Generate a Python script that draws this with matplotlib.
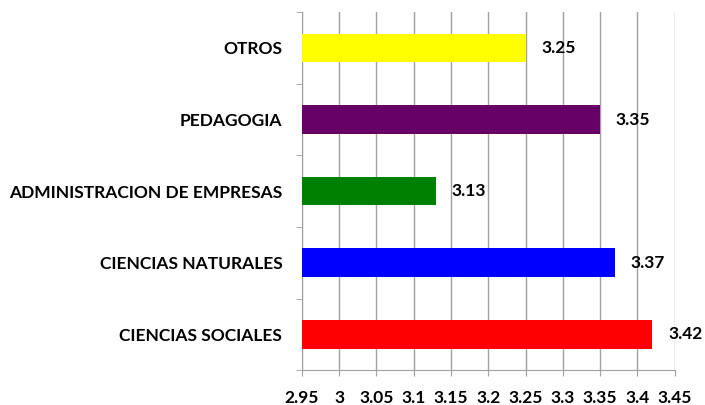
import matplotlib

matplotlib.use("Agg")
import matplotlib.pyplot as plt
import numpy as np

# datos (de abajo hacia arriba)
categories = ["CIENCIAS SOCIALES", "CIENCIAS NATURALES", "ADMINISTRACION DE EMPRESAS",
              "PEDAGOGIA", "OTROS"]
values = [3.42, 3.37, 3.13, 3.35, 3.25]
colors = ["#FF0000", "#0000FF", "#008000", "#660066", "#FFFF00"]
xticks = [2.95, 3.0, 3.05, 3.1, 3.15, 3.2, 3.25, 3.3, 3.35, 3.4, 3.45]
xtick_labels = ["2.95", "3", "3.05", "3.1", "3.15", "3.2", "3.25", "3.3", "3.35", "3.4", "3.45"]

plt.rcParams["font.family"] = ["Lato", "DejaVu Sans"]
plt.rcParams["font.weight"] = "bold"
FS = 12.5

fig = plt.figure(figsize=(7.05, 4.05), dpi=100)
ax = fig.add_axes([0.428, 0.086, 0.529, 0.884])

y = np.arange(len(categories))
ax.barh(y, np.array(values) - 2.95, left=2.95, height=0.4, color=colors, zorder=3)
for yi, v in zip(y, values):
    ax.text(v + 0.021, yi, f"{v:.2f}", va="center", ha="left", fontsize=FS,
            fontweight="bold", zorder=4)

ax.set_xlim(2.95, 3.45)
ax.set_ylim(-0.5, len(categories) - 0.5)
ax.set_xticks(xticks)
ax.set_xticklabels(xtick_labels, fontsize=FS, fontweight="bold")
ax.tick_params(axis="x", length=4, color="#A0A0A0", pad=10)

# etiquetas de categoria en el centro, marcas en los limites
ax.set_yticks(y)
ax.set_yticklabels(categories, fontsize=FS, fontweight="bold")
ax.tick_params(axis="y", length=0, pad=14)
ax.set_yticks(np.arange(-0.5, len(categories)), minor=True)
ax.tick_params(axis="y", which="minor", length=4, color="#A0A0A0")

ax.grid(axis="x", color="#A0A0A0", linewidth=1, zorder=0)
for s in ["top", "right"]:
    ax.spines[s].set_visible(False)
for s in ["left", "bottom"]:
    ax.spines[s].set_color("#A0A0A0")

fig.savefig("out.png")
